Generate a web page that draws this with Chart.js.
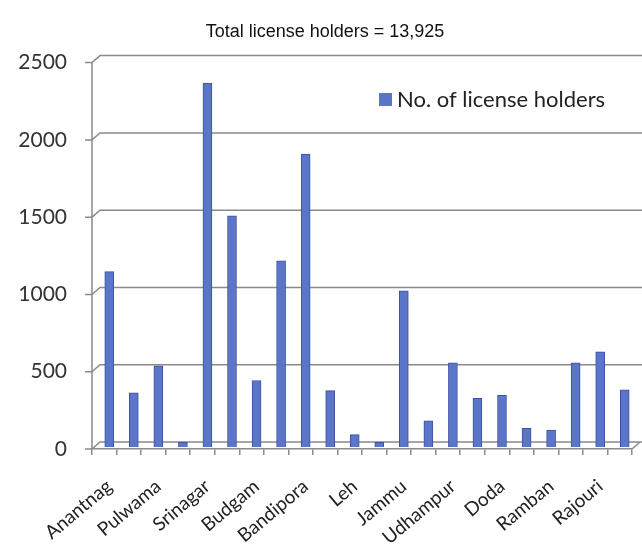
<!DOCTYPE html>
<html>
<head>
<meta charset="utf-8">
<script src="https://cdn.jsdelivr.net/npm/chart.js@4"></script>
<style>
  html, body { margin: 0; padding: 0; background: #fff; }
</style>
</head>
<body>
<canvas id="grafica" width="642" height="553"></canvas>
<script>
const districts = [
  'Anantnag', 'Kulgam', 'Pulwama', 'Shopian', 'Srinagar', 'Ganderbal',
  'Budgam', 'Baramulla', 'Bandipora', 'Kupwara', 'Leh', 'Kargil',
  'Jammu', 'Samba', 'Udhampur', 'Reasi', 'Doda', 'Kishtwar',
  'Ramban', 'Kathua', 'Rajouri', 'Poonch'
];
const holders = [
  1135, 350, 525, 30, 2355, 1495,
  430, 1205, 1895, 365, 80, 30,
  1010, 170, 545, 315, 335, 120,
  110, 545, 615, 370
];
const yTicks = [0, 500, 1000, 1500, 2000, 2500];
const chartTitle = 'Total license holders = 13,925';
const seriesName = 'No. of license holders';

const barFill = '#5b76c9';
const barEdge = '#3d52a0';
const gridGray = '#8a8a8a';
const fuente = 'Lato, "Noto Sans", sans-serif';

// back wall grid lines, y axis and a slight 3D shift for the bars
const fondo3d = {
  id: 'fondo3d',
  beforeDatasetsDraw(chart) {
    const { ctx, chartArea: a, scales: { y } } = chart;
    const dx = 8, dy = 7;
    ctx.save();
    ctx.strokeStyle = gridGray;
    ctx.lineWidth = 1.5;
    yTicks.forEach(v => {
      const py = y.getPixelForValue(v);
      ctx.beginPath();
      ctx.moveTo(a.left - 7, py);
      ctx.lineTo(a.left, py);
      ctx.lineTo(a.left + dx, py - dy);
      ctx.lineTo(chart.width, py - dy);
      ctx.stroke();
    });
    ctx.beginPath();
    ctx.moveTo(a.left, y.getPixelForValue(yTicks[yTicks.length - 1]));
    ctx.lineTo(a.left, a.bottom);
    ctx.stroke();
    ctx.beginPath();
    ctx.moveTo(a.right, a.bottom);
    ctx.lineTo(a.right + dx, a.bottom - dy);
    ctx.stroke();
    ctx.restore();

    ctx.save();
    ctx.translate(5, -2);
  },
  afterDatasetsDraw(chart) {
    const ctx = chart.ctx;
    ctx.restore();

    // legend
    ctx.save();
    ctx.fillStyle = barFill;
    ctx.fillRect(379, 93, 13, 13);
    ctx.fillStyle = '#222';
    ctx.font = '22px ' + fuente;
    ctx.textBaseline = 'middle';
    ctx.fillText(seriesName, 397, 100);
    ctx.restore();
  }
};

new Chart(document.getElementById('grafica'), {
  type: 'bar',
  data: {
    labels: districts,
    datasets: [{
      label: seriesName,
      data: holders,
      backgroundColor: barFill,
      borderColor: barEdge,
      borderWidth: 1,
      barThickness: 9
    }]
  },
  options: {
    responsive: false,
    animation: false,
    layout: { padding: { left: 18, right: 10, top: 0, bottom: 0 } },
    plugins: {
      legend: { display: false },
      tooltip: { enabled: false },
      title: {
        display: true,
        text: chartTitle,
        color: '#111',
        font: { family: '"Liberation Sans", Arial, sans-serif', size: 18, weight: 'normal' },
        padding: { top: 21, bottom: 20 }
      }
    },
    scales: {
      x: {
        grid: {
          display: true,
          drawOnChartArea: false,
          drawTicks: true,
          tickLength: 6,
          color: gridGray,
          lineWidth: 1.5,
          offset: true
        },
        border: { display: true, color: gridGray, width: 1.5 },
        ticks: {
          autoSkip: false,
          minRotation: 40,
          maxRotation: 40,
          padding: 20,
          labelOffset: 5,
          color: '#222',
          font: { family: fuente, size: 19 },
          callback: function(value, index) {
            return index % 2 === 0 ? districts[index] : '';
          }
        },
        afterFit: s => {
          s.height = 104;
          s.paddingLeft = 0;
          s.paddingRight = 0;
        }
      },
      y: {
        min: 0,
        max: 2500,
        afterBuildTicks: s => { s.ticks = yTicks.map(v => ({ value: v })); },
        grid: { display: false, drawTicks: false },
        border: { display: false },
        ticks: {
          padding: 25,
          color: '#333',
          font: { family: fuente, size: 21 },
          callback: v => String(v)
        },
        afterFit: s => { s.width = 74; }
      }
    }
  },
  plugins: [fondo3d]
});
</script>
</body>
</html>
